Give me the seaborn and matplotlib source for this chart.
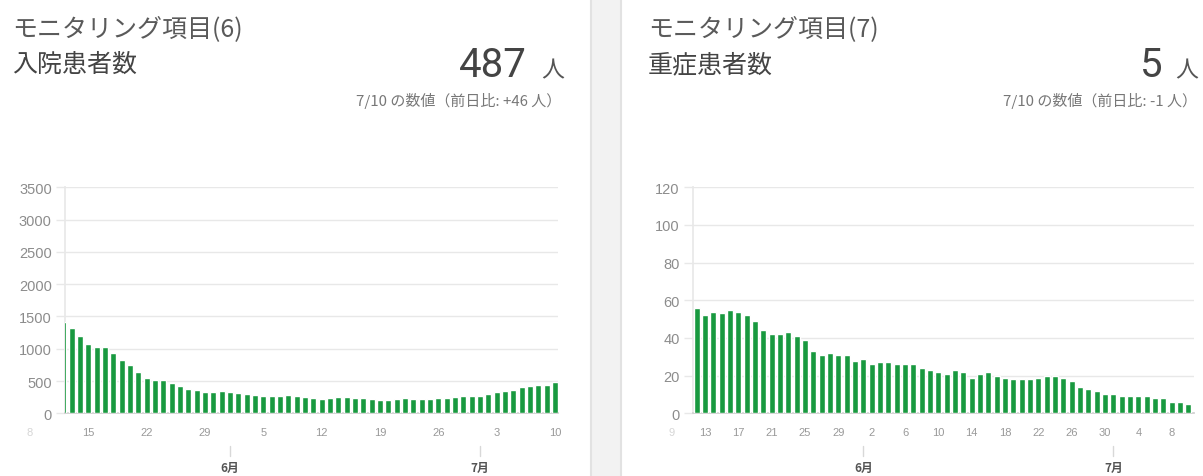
import pandas as pd
import seaborn as sns
import matplotlib.pyplot as plt
from matplotlib.patches import Rectangle
from matplotlib.lines import Line2D

# daily values, 2020-05-12 .. 2020-07-10 (60 days)
START = pd.Timestamp("2020-05-12")
hospitalized = [
    1420, 1321, 1200, 1079, 1031, 1021, 937, 826, 742, 647,
    553, 516, 510, 463, 416, 384, 368, 335, 330, 345,
    325, 310, 305, 290, 275, 275, 275, 285, 262, 255,
    240, 228, 240, 245, 250, 232, 232, 222, 208, 208,
    228, 240, 228, 228, 228, 232, 240, 245, 265, 262,
    275, 295, 325, 345, 365, 405, 420, 445, 441, 487,
]
severe = [
    56, 52, 54, 53, 55, 54, 52, 49, 44, 42,
    42, 43, 41, 39, 33, 31, 32, 31, 31, 28,
    29, 26, 27, 27, 26, 26, 26, 24, 23, 22,
    21, 23, 22, 19, 21, 22, 20, 19, 18, 18,
    18, 19, 20, 20, 19, 17, 14, 13, 12, 10,
    10, 9, 9, 9, 9, 8, 8, 6, 6, 5,
]

panels = [
    {
        "values": hospitalized,
        "label": "モニタリング項目(6)",
        "title": "入院患者数",
        "latest": "487",
        "note": "7/10 の数値（前日比: +46 人）",
        "ymax": 3500, "ystep": 500,
        "tick_first": "2020-05-08", "tick_every": 7,
        "xlim": (11.2, 70.36),
    },
    {
        "values": severe,
        "label": "モニタリング項目(7)",
        "title": "重症患者数",
        "latest": "5",
        "note": "7/10 の数値（前日比: -1 人）",
        "ymax": 120, "ystep": 20,
        "tick_first": "2020-05-09", "tick_every": 4,
        "xlim": (10.52, 70.68),
    },
]

GREEN = "#18993f"
GRID = "#e8e8e8"
W, H = 1203, 477
BASE = pd.Timestamp("2020-05-01")

sns.set_theme(style="white")
plt.rcParams['font.family'] = ['Noto Sans CJK JP', 'DejaVu Sans']

fig = plt.figure(figsize=(W / 100, H / 100), dpi=100)

def fx(px):
    return px / W

def fy(py):
    return 1 - py / H

# panel separator
fig.patches.append(Rectangle((fx(591), 0), fx(30), 1, transform=fig.transFigure,
                             facecolor="#f2f2f2", edgecolor="none", zorder=0))
for xp in (591, 621):
    fig.lines.append(Line2D([fx(xp), fx(xp)], [0, 1], transform=fig.transFigure,
                            color="#e2e2e2", linewidth=1.5))

axes_px = [(65, 558), (692.7, 1194)]
text_px = [(12, 527, 564, 561), (648, 1163, 1198, 1197)]
ax_top, ax_bot = 188.3, 414.3

for p, (x0, x1), (tx, numx, unitx, notex) in zip(panels, axes_px, text_px):
    ax = fig.add_axes([fx(x0), fy(ax_bot), fx(x1 - x0), fy(ax_top) - fy(ax_bot)])
    dates = pd.date_range(START, periods=len(p["values"]))
    df = pd.DataFrame({"day": (dates - BASE).days, "value": p["values"]})
    sns.barplot(data=df, x="day", y="value", native_scale=True, color=GREEN,
                saturation=1, width=0.72, ax=ax, zorder=3)

    ax.set_xlim(*p["xlim"])
    ax.set_ylim(0, p["ymax"])
    ax.set_yticks(range(0, p["ymax"] + 1, p["ystep"]))
    ax.grid(axis="y", color=GRID, linewidth=1)
    ax.set_axisbelow(True)
    for s in ("top", "right"):
        ax.spines[s].set_visible(False)
    ax.spines["left"].set_color(GRID)
    ax.spines["bottom"].set_color("#cfcfcf")
    ax.set_xlabel("")
    ax.set_ylabel("")

    ticks = pd.date_range(p["tick_first"], "2020-07-10", freq=f"{p['tick_every']}D")
    tick_pos = (ticks - BASE).days
    inside = [(t, d) for t, d in zip(tick_pos, ticks) if t >= p["xlim"][0]]
    ax.set_xticks([t for t, _ in inside])
    ax.set_xticklabels([str(d.day) for _, d in inside])
    ax.tick_params(axis="x", length=0, pad=10, labelsize=8, labelcolor="#999999",
                   labelfontfamily="Liberation Sans")
    ax.tick_params(axis="y", length=6.5, width=1, color=GRID, pad=3, labelsize=10.5,
                   labelcolor="#8c8c8c", labelfontfamily="Liberation Sans")
    ax.tick_params(axis="y", left=True)

    # first tick hidden behind the y axis panel
    for t, d in zip(tick_pos, ticks):
        if t < p["xlim"][0]:
            ax.text(t, -19 / 226, str(d.day), transform=ax.get_xaxis_transform(),
                    ha="center", va="center", fontsize=8, color="#d6d6d6",
                    family="Liberation Sans", clip_on=False)

    # month markers
    for m, name in [("2020-06-01", "6月"), ("2020-07-01", "7月")]:
        mx = (pd.Timestamp(m) - BASE).days
        ax.plot([mx, mx], [-33 / 226, -43 / 226], transform=ax.get_xaxis_transform(),
                color="#d8d8d8", linewidth=1, clip_on=False)
        ax.text(mx, -54 / 226, name, transform=ax.get_xaxis_transform(),
                ha="center", va="center", fontsize=8.5, color="#555555",
                fontweight="bold", clip_on=False)

    # header texts
    fig.text(fx(tx), fy(29), p["label"], ha="left", va="center", fontsize=18,
             color="#5a5a5a")
    fig.text(fx(tx), fy(65), p["title"], ha="left", va="center", fontsize=18,
             color="#444444")
    fig.text(fx(numx), fy(77), p["latest"], ha="right", va="baseline", fontsize=29,
             color="#444444", family="Roboto")
    fig.text(fx(unitx), fy(77), "人", ha="right", va="baseline", fontsize=16.5,
             color="#555555")
    fig.text(fx(notex), fy(101), p["note"], ha="right", va="center", fontsize=10.8,
             color="#777777")

fig.savefig("out.png", dpi=100)
